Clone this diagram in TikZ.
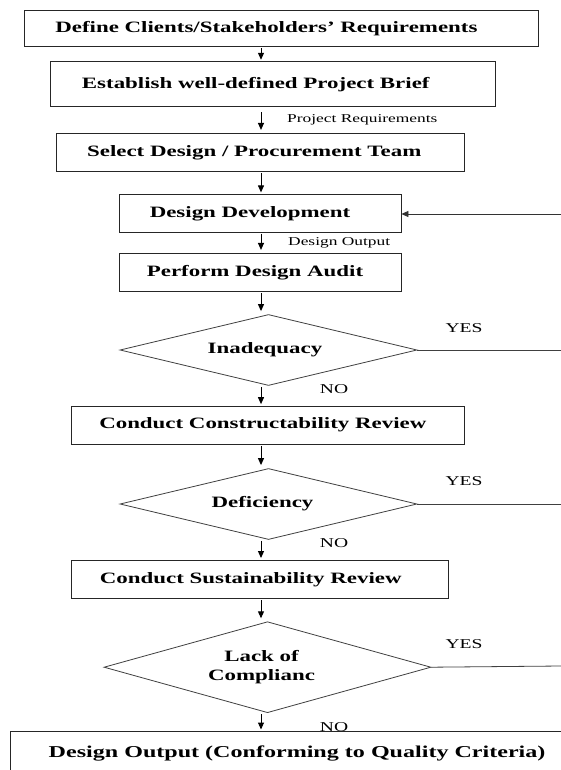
\documentclass[tikz,border=0pt]{standalone}
\usepackage{fontspec}
\setmainfont{Liberation Serif}[FakeStretch=1.45]
\usetikzlibrary{shapes.geometric,arrows.meta}
\begin{document}
\begin{tikzpicture}[x=1pt,y=-1pt,
  box/.style={draw=black!85, line width=0.8pt, inner sep=0pt, font=\fontsize{15.8}{19.5}\selectfont\bfseries},
  dia/.style={draw=black!75, line width=0.8pt, diamond, inner sep=0pt, font=\fontsize{15.8}{19.5}\selectfont\bfseries, align=center},
  lab/.style={font=\fontsize{12}{14}\selectfont, inner sep=0pt},
  yn/.style={font=\fontsize{13.5}{16}\selectfont, inner sep=0pt},
  arr/.style={-{Triangle[length=7pt,width=6pt]}, line width=1pt, black, shorten <=1pt, shorten >=1.5pt},
  fbarr/.style={-{Triangle[length=7pt,width=6pt]}, line width=0.8pt, black!80},
  ln/.style={line width=0.8pt, black!75}
]
\useasboundingbox (0,0) rectangle (561,770);
\fill[white] (0,0) rectangle (561,770);
\clip (0,0) rectangle (561,770);

\coordinate (ax) at (261,0);

\node[box, minimum width=514pt, minimum height=36pt] (b1) at (281.4,28.7) {\hspace*{-30pt}Define Clients/Stakeholders’ Requirements};
\node[box, minimum width=445.5pt, minimum height=45pt] (b2) at (272.75,84.2) {\hspace*{-34pt}Establish well-defined Project Brief};
\node[box, minimum width=407.5pt, minimum height=38.3pt] (b3) at (260.25,152.5) {\hspace*{-12pt}Select Design / Procurement Team};
\node[box, minimum width=282pt, minimum height=38pt] (b4) at (260,213.3) {\hspace*{-20pt}Design Development};
\node[box, minimum width=282pt, minimum height=38.3pt] (b5) at (260,272.5) {\hspace*{-10pt}Perform Design Audit};
\node[dia, minimum width=297pt, minimum height=71pt, aspect=4.2] (d1) at (268.5,350) {\hspace*{-7pt}Inadequacy};
\node[box, minimum width=392.4pt, minimum height=38.3pt] (b6) at (267.8,425.2) {\hspace*{-10pt}Conduct Constructability Review};
\node[dia, minimum width=297pt, minimum height=71pt, aspect=4.2] (d2) at (268.5,504) {\hspace*{-12pt}Deficiency};
\node[box, minimum width=376.4pt, minimum height=38.7pt] (b7) at (259.8,579.3) {\hspace*{-18pt}Conduct Sustainability Review};
\node[dia, minimum width=327pt, minimum height=91pt, aspect=3.6] (d3) at (267.5,667.2) {\hspace*{-12pt}Lack of\\\hspace*{-12pt}Complianc};
\node[box, minimum width=610pt, minimum height=43.4pt, anchor=north west, font=\fontsize{16.6}{20}\selectfont\bfseries] (b8) at (9.7,731) {\hspace*{-36pt}Design Output (Conforming to Quality Criteria)};

\node[lab, anchor=west] (pr) at (287,120) {Project Requirements};
\node[lab, anchor=west] (dout) at (288,242.5) {Design Output};

\node[yn] (yes1) at (464,328) {YES};
\node[yn] (yes2) at (464,481) {YES};
\node[yn] (yes3) at (464,644) {YES};
\node[yn] (no1) at (334,389.3) {NO};
\node[yn] (no2) at (334,543.3) {NO};
\node[yn] (no3) at (334,726.7) {NO};

\draw[arr] (b1.south -| ax) -- (b2.north -| ax);
\draw[arr, shorten <=5pt, shorten >=3pt] (b2.south -| ax) -- (b3.north -| ax);
\draw[arr] (b3.south -| ax) -- (b4.north -| ax);
\draw[arr, shorten >=3pt] (b4.south -| ax) -- (b5.north -| ax);
\draw[arr, shorten >=3pt] (b5.south -| ax) -- (d1.north -| ax);
\draw[arr] (d1.south -| ax) -- (b6.north -| ax);
\draw[arr, shorten >=3pt] (b6.south -| ax) -- (d2.north -| ax);
\draw[arr] (d2.south -| ax) -- (b7.north -| ax);
\draw[arr, shorten >=3pt] (b7.south -| ax) -- (d3.north -| ax);
\draw[arr] (d3.south -| ax) -- (b8.north -| ax);

\coordinate (fb) at (561,214);
\draw[fbarr] (fb) -- (b4.east |- fb);

\coordinate (y1) at (561,350);
\coordinate (y2) at (561,504);
\coordinate (y3) at (561,666);
\draw[ln] (d1.east) -- (y1);
\draw[ln] (d2.east) -- (y2);
\draw[ln] (d3.east) -- (y3);
\end{tikzpicture}
\end{document}
